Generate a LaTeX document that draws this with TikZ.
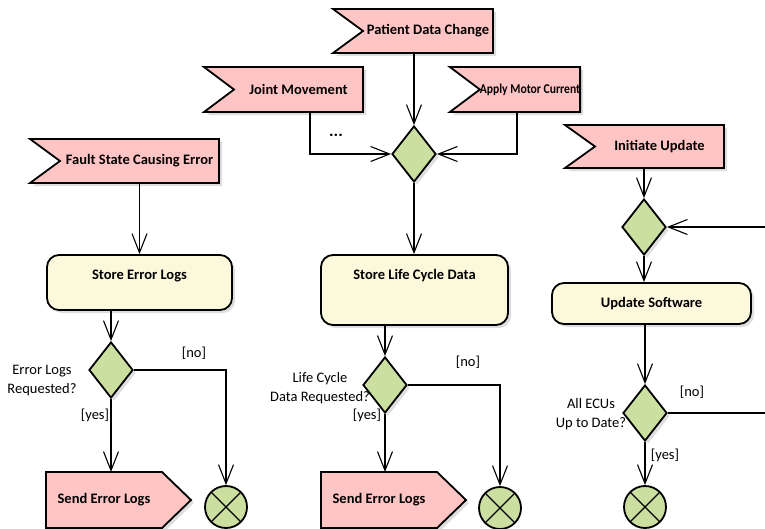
\documentclass[tikz,border=0pt]{standalone}
\usepackage{fontspec}
\setmainfont{Carlito}
\usetikzlibrary{arrows.meta,shapes.geometric,shadows,calc}
\pgfdeclarelayer{background}
\pgfsetlayers{background,main}

\definecolor{sigpink}{RGB}{255,196,196}
\definecolor{actyellow}{RGB}{252,248,220}
\definecolor{decgreen}{RGB}{203,224,160}
\definecolor{shade}{RGB}{222,222,222}

\tikzset{
  every node/.style={font=\fontsize{14.5}{17}\selectfont},
  softshadow/.style={drop shadow={shadow xshift=3pt, shadow yshift=-3pt, fill=shade, opacity=1}},
  border/.style={draw=black, line width=1.8pt, line join=miter},
  sigarea/.style={inner sep=0pt, outer sep=0pt, font=\fontsize{14.5}{17}\selectfont\bfseries},
  sigshape/.style={border, fill=sigpink, softshadow},
  action/.style={rectangle, border, fill=actyellow, rounded corners=12pt, softshadow,
    inner sep=0pt, font=\fontsize{14.5}{17}\selectfont\bfseries},
  decision/.style={diamond, border, fill=decgreen, softshadow,
    minimum width=44pt, minimum height=56pt, inner sep=0pt},
  final/.style={circle, border, fill=decgreen, minimum size=42pt, inner sep=0pt,
    path picture={\draw[line width=1.3pt]
      (path picture bounding box.north west) -- (path picture bounding box.south east)
      (path picture bounding box.north east) -- (path picture bounding box.south west);}},
  flow/.style={line width=1.1pt, -{Straight Barb[length=19pt,width=15pt]}},
  plain/.style={line width=1.1pt},
  guard/.style={inner sep=1pt},
  question/.style={align=center, inner sep=0pt, font=\fontsize{14.5}{19}\selectfont},
}

\begin{document}
\begin{tikzpicture}[x=1pt, y=-1pt]
\useasboundingbox (0,0) rectangle (765,528);

% accept-event signals (text area right of the notch)
\node[sigarea, minimum width=130pt, minimum height=44pt] (pdc) at (428,31) {Patient Data Change};
\node[sigarea, minimum width=129pt, minimum height=45pt] (jm)  at (298.5,89.5) {Joint Movement};
\node[sigarea, minimum width=100pt, minimum height=45pt, font=\fontsize{13.5}{17}\selectfont\bfseries]
  (amc) at (530,89.5) {\scalebox{0.86}[1]{Apply Motor Current}};
\node[sigarea, minimum width=159pt, minimum height=44pt] (fse) at (139.5,161) {Fault State Causing Error};
\node[sigarea, minimum width=129pt, minimum height=43pt] (iu)  at (659.5,146.5) {Initiate Update};

% send-signal actions (text area left of the point)
\node[sigarea, minimum width=116pt, minimum height=56pt] (se1) at (104,500) {Send Error Logs};
\node[sigarea, minimum width=116pt, minimum height=56pt] (se2) at (379,500) {Send Error Logs};

% actions
\node[action, minimum width=185pt, text height=24.5pt, text depth=30.5pt] (sel) at (139.5,282.5) {Store Error Logs};
\node[action, minimum width=187pt, text height=24.5pt, text depth=45.5pt] (slc) at (414.5,290) {Store Life Cycle Data};
\node[action, minimum width=199pt, minimum height=41pt] (us) at (651.5,303.5) {Update Software};

% merge and decisions
\node[decision] (merge) at (414,154) {};
\node[decision] (dec1) at (111,370) {};
\node[decision] (dec2) at (385,385) {};
\node[decision] (dec3) at (644,227) {};
\node[decision] (dec4) at (645,413) {};

% flow finals
\node[final] (fin1) at (226,507) {};
\node[final] (fin2) at (500,508) {};
\node[final] (fin3) at (645,507) {};

% loop ends leaving the sheet on the right
\coordinate (in3) at (770,227);
\coordinate (out4) at (770,413);

% signal outlines
\begin{pgfonlayer}{background}
\foreach \n in {pdc,jm,amc,fse,iu}
  \draw[sigshape] (\n.north east) -- (\n.south east) -- ([xshift=-30pt]\n.south west)
    -- (\n.west) -- ([xshift=-30pt]\n.north west) -- cycle;
\foreach \n in {se1,se2}
  \draw[sigshape] (\n.north west) -- (\n.north east) -- ([xshift=29pt]\n.east)
    -- (\n.south east) -- (\n.south west) -- cycle;
\end{pgfonlayer}

% labels
\node[guard, font=\fontsize{17}{17}\selectfont\bfseries] (dots) at (336,135) {...};
\node[question] (q1) at (42,381) {Error Logs\\Requested?};
\node[guard] (no1) at (194,353) {[no]};
\node[guard] (yes1) at (95,415) {[yes]};
\node[question] (q2) at (320,388) {Life Cycle\\Data Requested?};
\node[guard] (no2) at (468,362) {[no]};
\node[guard] (yes2) at (367,415) {[yes]};
\node[question] (q3) at (591,414.5) {All ECUs\\Up to Date?};
\node[guard] (no3) at (692,392) {[no]};
\node[guard] (yes3) at (665,455) {[yes]};

% control flows
\draw[flow] (merge.north |- pdc.south) -- (merge.north);
\draw[flow] ([xshift=11.5pt]jm.south) |- (merge.west);
\draw[flow] ([xshift=-13pt]amc.south) |- (merge.east);
\draw[flow] (merge.south) -- (merge.south |- slc.north);

\draw[flow] (fse.south) -- (sel.north);
\draw[flow] (dec1.north |- sel.south) -- (dec1.north);
\draw[flow] (dec1.south) -- (dec1.south |- se1.north);
\draw[flow] (dec1.east) -| (fin1.north);

\draw[flow] (dec2.north |- slc.south) -- (dec2.north);
\draw[flow] (dec2.south) -- (dec2.south |- se2.north);
\draw[flow] (dec2.east) -| (fin2.north);

\draw[flow] (dec3.north |- iu.south) -- (dec3.north);
\draw[flow] (in3) -- (dec3.east);
\draw[flow] (dec3.south) -- (dec3.south |- us.north);
\draw[flow] (dec4.north |- us.south) -- (dec4.north);
\draw[flow] (dec4.south) -- (fin3.north);
\draw[plain] (dec4.east) -- (out4);
\end{tikzpicture}
\end{document}
